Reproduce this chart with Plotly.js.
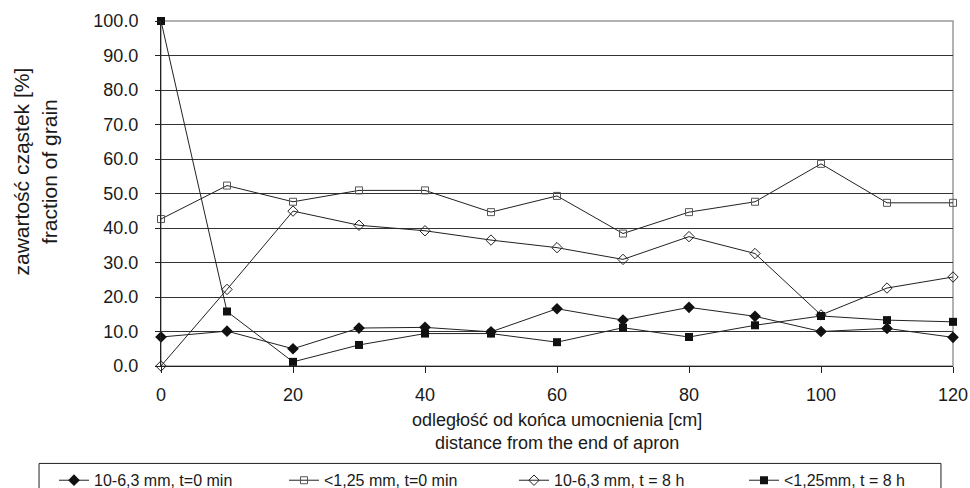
<!DOCTYPE html>
<html><head><meta charset="utf-8">
<script src="https://cdn.plot.ly/plotly-3.0.1.min.js"></script>
<style>html,body{margin:0;padding:0;background:#fff}#chart{width:970px;height:488px}</style>
</head><body><div id="chart"></div>
<script>
const distance = [0,10,20,30,40,50,60,70,80,90,100,110,120];
const coarse_t0 = [8.4,10.1,5.0,11.0,11.2,9.9,16.6,13.3,17.0,14.4,10.0,10.9,8.3];
const fine_t0 = [42.6,52.3,47.6,50.9,50.9,44.6,49.3,38.4,44.6,47.6,58.6,47.3,47.3];
const coarse_t8 = [0.0,22.2,44.9,40.8,39.2,36.5,34.3,30.9,37.5,32.6,14.8,22.6,25.8];
const fine_t8 = [100.0,15.8,1.2,6.1,9.4,9.4,6.9,11.1,8.4,11.8,14.5,13.3,12.8];
const names = ['10-6,3 mm, t=0 min','<1,25 mm, t=0 min','10-6,3 mm, t = 8 h','<1,25mm, t = 8 h'];
const xTitle = 'odległość od końca umocnienia [cm]<br>distance from the end of apron';
const yTitle = 'zawartość cząstek [%]<br>fraction of grain';

const F = 'Liberation Sans, Arial, sans-serif';
const C = '#1a1a1a';

const traces = [
  {y: coarse_t0, name: names[0], marker:{symbol:'diamond', size:9, color:'#111'}},
  {y: fine_t0, name: names[1], marker:{symbol:'square-open', size:7, color:'#555', line:{width:1}}},
  {y: coarse_t8, name: names[2], marker:{symbol:'diamond-open', size:8, color:'#222', line:{width:1}}},
  {y: fine_t8, name: names[3], marker:{symbol:'square', size:8, color:'#111'}}
].map(t => Object.assign({x: distance, type:'scatter', mode:'lines+markers', cliponaxis:false,
  line:{color:'#222', width:1}}, t));

const layout = {
  width:970, height:488,
  margin:{l:161, r:17, t:21, b:122, autoexpand:false},
  paper_bgcolor:'#fff', plot_bgcolor:'#fff',
  font:{family:F, size:18, color:C},
  showlegend:true,
  legend:{orientation:'h', xref:'paper', yref:'paper', x:-0.1351, xanchor:'left', y:-0.2821, yanchor:'top',
    bgcolor:'rgba(0,0,0,0)', borderwidth:0, font:{size:16, family:F, color:C},
    entrywidth:185, entrywidthmode:'pixels', tracegroupgap:0},
  xaxis:{range:[0,120], tickvals:[0,20,40,60,80,100,120], ticks:'outside', ticklen:6, tickcolor:'#222',
    ticklabelstandoff:6,
    showline:true, linecolor:'#222', linewidth:1, showgrid:false, zeroline:false},
  yaxis:{range:[0,100], dtick:10, tickformat:'.1f', ticks:'outside', ticklen:5, tickcolor:'#222',
    ticklabelstandoff:13,
    showline:true, linecolor:'#222', linewidth:1, showgrid:true, gridcolor:'#333', gridwidth:1, zeroline:false},
  annotations:[
    {text:xTitle, xref:'paper', yref:'paper', x:0.5, y:-0.1913, xanchor:'center', yanchor:'middle',
      showarrow:false, align:'center', font:{size:18, family:F, color:C}},
    {text:yTitle, xref:'paper', yref:'paper', x:-0.1585, y:0.5652, xanchor:'center', yanchor:'middle',
      textangle:-90, showarrow:false, align:'center', font:{size:21, family:F, color:C}}
  ],
  shapes:[
    {type:'rect', xref:'paper', yref:'paper', x0:0, x1:1, y0:0, y1:1, line:{color:'#999', width:1.5}, layer:'below'},
    {type:'rect', xref:'paper', yref:'paper', x0:-0.1540, x1:0.9848, y0:-0.2824, y1:-0.40, line:{color:'#222', width:1}, layer:'above'}
  ]
};
Plotly.newPlot('chart', traces, layout, {displayModeBar:false, staticPlot:true});
</script></body></html>
